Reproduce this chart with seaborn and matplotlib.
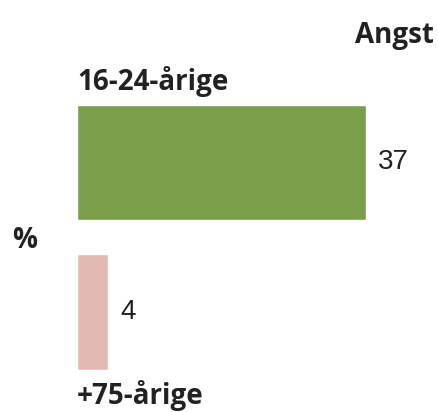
import matplotlib
matplotlib.use("Agg")
import matplotlib.pyplot as plt
import seaborn as sns
import pandas as pd

# data
title = "Angst"
unit = "%"
groups = ["16-24-årige", "+75-årige"]
values = [37, 4]
colors = ["#799f4a", "#e3b9b3"]

df = pd.DataFrame({"group": groups, "value": values})

sns.set_theme(style="white")
plt.rcParams["font.family"] = ["Open Sans", "DejaVu Sans"]

W, H = 438, 412
fig = plt.figure(figsize=(W / 100, H / 100), dpi=100)
ax = fig.add_axes([77 / W, 0, 1 - 77 / W, 1])

sns.barplot(data=df, x="value", y="group", hue="group", palette=colors,
            width=0.77, saturation=1, legend=False, ax=ax)

ax.set_xlim(0, (W - 77) / 7.8)
ax.set_ylim(1.669, -1.087)
ax.set_axis_off()

for cont in ax.containers:
    ax.bar_label(cont, padding=9, fontsize=20, family="Liberation Sans",
                 color="#222222")

# text labels
txt = dict(fontsize=20, fontweight="bold", color="#222222")
fig.text(434 / W, 1 - 43 / H, title, ha="right", va="baseline", **txt)
fig.text(77 / W, 1 - 90 / H, groups[0], ha="left", va="baseline", **txt)
fig.text(12 / W, 1 - 248 / H, unit, ha="left", va="baseline", **txt)
fig.text(77 / W, 1 - 404 / H, groups[1], ha="left", va="baseline", **txt)

fig.savefig("out.png", dpi=100)
